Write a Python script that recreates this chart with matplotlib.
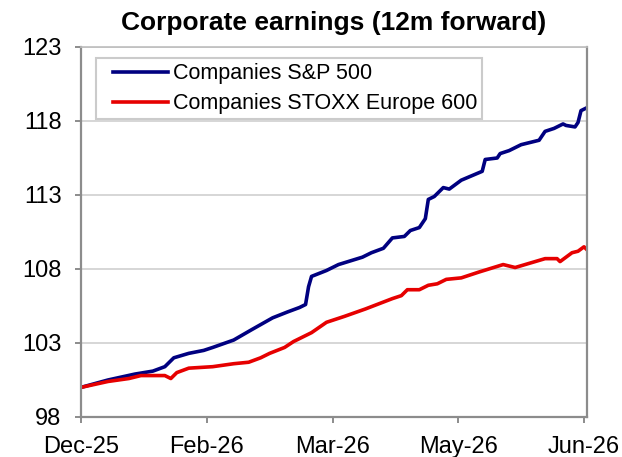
import pandas as pd
import matplotlib
matplotlib.use('Agg')
import matplotlib.pyplot as plt
from matplotlib.legend_handler import HandlerLine2D

plt.rcParams['font.family'] = ['Liberation Sans', 'DejaVu Sans']

# values (index, start = 100)
sp_dates = ['2025-12-31', '2026-01-09', '2026-01-18', '2026-01-24', '2026-01-28',
            '2026-01-31', '2026-02-05', '2026-02-10', '2026-02-13', '2026-02-20',
            '2026-02-26', '2026-03-05', '2026-03-10', '2026-03-14', '2026-03-16',
            '2026-03-17', '2026-03-18', '2026-03-23', '2026-03-27', '2026-04-04',
            '2026-04-07', '2026-04-11', '2026-04-14', '2026-04-18', '2026-04-20',
            '2026-04-23', '2026-04-25', '2026-04-26', '2026-04-28', '2026-05-01',
            '2026-05-03', '2026-05-07', '2026-05-14', '2026-05-15', '2026-05-19',
            '2026-05-20', '2026-05-23', '2026-05-27', '2026-06-02', '2026-06-04',
            '2026-06-07', '2026-06-10', '2026-06-11', '2026-06-14', '2026-06-15',
            '2026-06-16', '2026-06-18']
sp_values = [100.0, 100.5, 100.9, 101.1, 101.4,
             102.0, 102.3, 102.5, 102.7, 103.2,
             103.9, 104.7, 105.1, 105.4, 105.6,
             106.8, 107.5, 107.9, 108.3, 108.8,
             109.1, 109.4, 110.1, 110.2, 110.6,
             110.8, 111.4, 112.7, 112.9, 113.5,
             113.4, 114.0, 114.6, 115.4, 115.5,
             115.8, 116.0, 116.4, 116.7, 117.3,
             117.5, 117.8, 117.7, 117.6, 117.9,
             118.7, 118.9]

stoxx_dates = ['2025-12-31', '2026-01-09', '2026-01-16', '2026-01-20', '2026-01-28',
               '2026-01-30', '2026-02-01', '2026-02-05', '2026-02-13', '2026-02-20',
               '2026-02-25', '2026-03-01', '2026-03-04', '2026-03-09', '2026-03-12',
               '2026-03-14', '2026-03-18', '2026-03-23', '2026-03-29', '2026-04-05',
               '2026-04-14', '2026-04-17', '2026-04-19', '2026-04-23', '2026-04-26',
               '2026-04-29', '2026-05-02', '2026-05-07', '2026-05-13', '2026-05-21',
               '2026-05-25', '2026-05-30', '2026-06-04', '2026-06-08', '2026-06-09',
               '2026-06-13', '2026-06-15', '2026-06-17', '2026-06-18']
stoxx_values = [100.0, 100.4, 100.6, 100.8, 100.8,
                100.6, 101.0, 101.3, 101.4, 101.6,
                101.7, 102.0, 102.3, 102.7, 103.1,
                103.3, 103.7, 104.4, 104.8, 105.3,
                106.0, 106.2, 106.6, 106.6, 106.9,
                107.0, 107.3, 107.4, 107.8, 108.3,
                108.1, 108.4, 108.7, 108.7, 108.5,
                109.1, 109.2, 109.5, 109.3]

tick_dates = ['2025-12-31', '2026-02-11', '2026-03-25', '2026-05-06', '2026-06-17']
tick_labels = ['Dec-25', 'Feb-26', 'Mar-26', 'May-26', 'Jun-26']
y_ticks = [98, 103, 108, 113, 118, 123]

axis_grey = '#8c8c8c'

fig = plt.figure(figsize=(6.22, 4.57), dpi=100)
ax = fig.add_axes([81 / 622, 40 / 457, 506 / 622, 370 / 457])

ax.plot(pd.to_datetime(sp_dates), sp_values, color='#000080', lw=2.6,
        label='Companies S&P 500', solid_joinstyle='round')
ax.plot(pd.to_datetime(stoxx_dates), stoxx_values, color='#e60000', lw=2.6,
        label='Companies STOXX Europe 600', solid_joinstyle='round')

ax.set_xlim(pd.Timestamp('2025-12-31'), pd.Timestamp('2026-06-18'))
ax.set_ylim(98, 123)
ax.set_yticks(y_ticks)
ax.set_xticks(pd.to_datetime(tick_dates))
ax.set_xticklabels(tick_labels)

ax.grid(axis='y', color='#cccccc', lw=1.1)
ax.set_axisbelow(True)
for side in ['left', 'bottom', 'right', 'top']:
    ax.spines[side].set_color(axis_grey)
    ax.spines[side].set_linewidth(1.6)
ax.spines['top'].set_color('#bdbdbd')
ax.spines['top'].set_linewidth(1.2)

ax.tick_params(axis='both', direction='out', length=4, width=1.4,
               color=axis_grey, labelsize=17, pad=10)

ax.set_title('Corporate earnings (12m forward)', fontsize=19,
             fontweight='bold', pad=12)

# handle line starts a bit in from the legend frame, like the original
leg = ax.legend(loc='upper left', bbox_to_anchor=(0.030, 0.970),
                borderaxespad=0, fontsize=15.5, frameon=True, fancybox=False,
                handlelength=3.1, handletextpad=0.2, labelspacing=0.4,
                borderpad=0.25,
                handler_map={plt.Line2D: HandlerLine2D(xpad=0.55)})
leg.get_frame().set_edgecolor('#bfbfbf')
leg.get_frame().set_linewidth(1.5)

fig.savefig('out.png', dpi=100)
